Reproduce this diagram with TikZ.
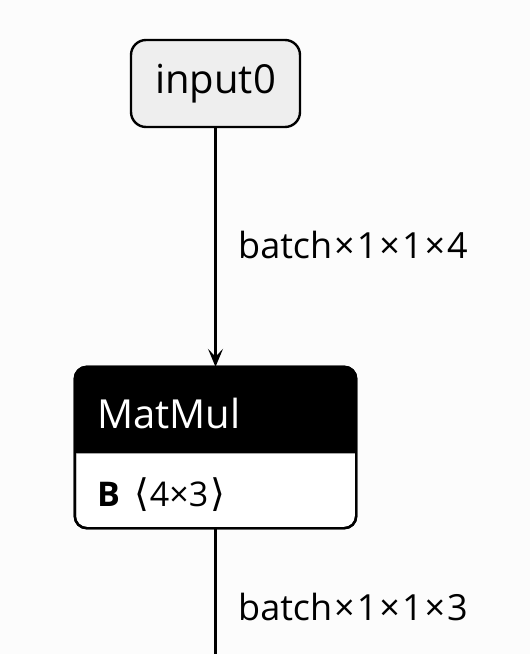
\documentclass[tikz,border=0pt]{standalone}
\usepackage{fontspec}
\setmainfont{Open Sans}
\newfontfamily\symfont{DejaVu Sans}
\usetikzlibrary{arrows.meta}
\definecolor{bgcol}{HTML}{FCFCFC}
\definecolor{inputfill}{HTML}{EEEEEE}
\newcommand{\tx}{\hspace{2pt}×\hspace{2pt}}
\begin{document}
\begin{tikzpicture}[x=1pt,y=-1pt,
  boxline/.style={line width=2.4pt},
  edgelabel/.style={anchor=west,inner sep=0pt,font=\fontsize{36}{40}\selectfont},
  edgeline/.style={line width=2.2pt}]
\fill[bgcol] (0,0) rectangle (530,654);
\useasboundingbox (0,0) rectangle (530,654);
% input node
\node[boxline,draw=black,fill=inputfill,rounded corners=15pt,minimum width=169pt,minimum height=87pt,inner sep=0pt,font=\fontsize{40}{46}\selectfont] (in) at (215.5,83.5) {input0};
% MatMul node frame
\node[minimum width=281pt,minimum height=161pt,inner sep=0pt] (mm) at (215.5,447.5) {};
\path[fill=white,draw=black,boxline,rounded corners=12pt] (mm.south west) rectangle (mm.north east);
\fill[black,rounded corners=12pt] (75,453) -- (75,367) -- (356,367) -- (356,453);
\draw[black!35,line width=1pt] (76.2,453) -- (354.8,453);
\draw[black,boxline,rounded corners=12pt] (mm.south west) rectangle (mm.north east);
\node[anchor=west,inner sep=0pt,text=white,font=\fontsize{40}{44}\selectfont] (mmt) at (97,413) {MatMul};
\node[anchor=west,inner sep=0pt,font=\fontsize{34}{38}\selectfont] (mmb) at (97,495) {\textbf{B}\hspace{14pt}{\symfont\fontsize{38}{40}\selectfont ⟨}\hspace{1pt}4×3\hspace{2pt}{\symfont\fontsize{38}{40}\selectfont ⟩}};
% edges
\coordinate (out) at (215.5,654);
\draw[edgeline,-{Stealth[length=18pt,width=15pt,inset=8pt]}] (in) -- (mm);
\draw[edgeline] (mm) -- (out);
\node[edgelabel] (l1) at (238,245) {batch\tx 1\tx 1\tx 4};
\node[edgelabel] (l2) at (238,607) {batch\tx 1\tx 1\tx 3};
\end{tikzpicture}
\end{document}
